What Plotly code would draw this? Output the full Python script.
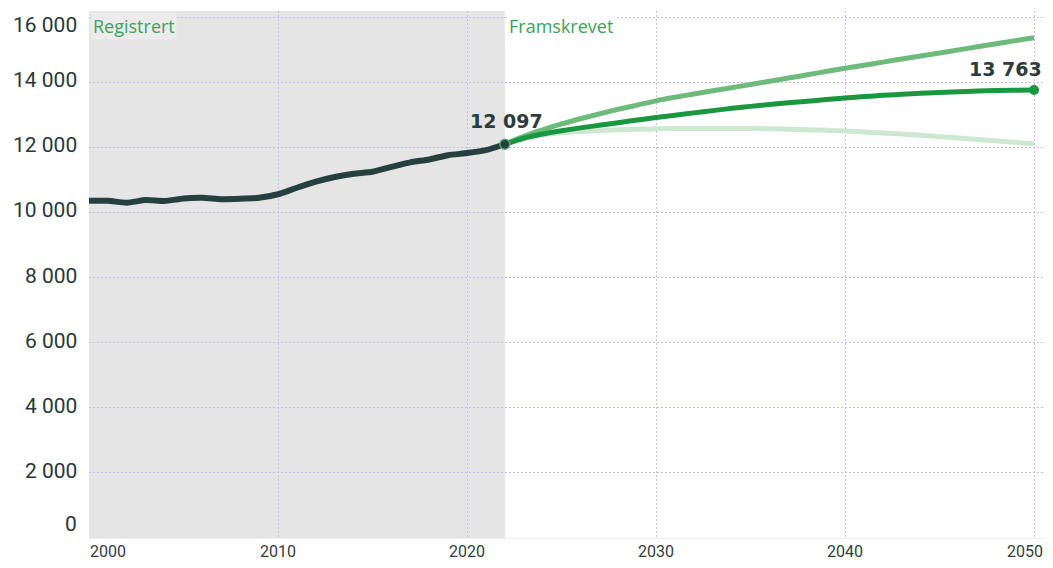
import plotly.graph_objects as go

# Registered population
hist_years = list(range(2000, 2023))
hist_values = [10360, 10360, 10300, 10380, 10350, 10430, 10450, 10410, 10420, 10450,
               10560, 10760, 10945, 11090, 11190, 11250, 11400, 11540, 11630, 11760,
               11825, 11915, 12097]

# Projections
proj_years = list(range(2022, 2051))
proj_main = [12097, 12280, 12410, 12510, 12600, 12680, 12760, 12840, 12920, 12990,
             13060, 13130, 13200, 13260, 13320, 13370, 13420, 13470, 13520, 13560,
             13600, 13630, 13660, 13690, 13710, 13730, 13745, 13755, 13763]
proj_high = [12097, 12340, 12540, 12720, 12880, 13030, 13170, 13300, 13430, 13540,
             13640, 13740, 13835, 13930, 14030, 14130, 14230, 14330, 14430, 14525,
             14620, 14715, 14810, 14900, 14995, 15090, 15185, 15280, 15370]
proj_low = [12097, 12290, 12390, 12450, 12490, 12520, 12545, 12560, 12570, 12578,
            12582, 12584, 12583, 12578, 12570, 12558, 12543, 12525, 12505, 12475,
            12443, 12408, 12370, 12330, 12288, 12244, 12200, 12155, 12110]

y_ticks = [0, 2000, 4000, 6000, 8000, 10000, 12000, 14000, 16000]
x_ticks = [2000, 2010, 2020, 2030, 2040, 2050]


def fmt(v):
    return f"{v:,}".replace(",", " ")


DARK = "#263f3f"
TEXT = "#273838"
GRID = "#c4bcf5"
LABEL_GREEN = "#3aa35a"

fig = go.Figure()

fig.add_trace(go.Scatter(x=proj_years, y=proj_low, mode="lines",
                         line=dict(color="#cde7d1", width=5, shape="spline"),
                         hoverinfo="skip"))
fig.add_trace(go.Scatter(x=proj_years, y=proj_high, mode="lines",
                         line=dict(color="#6dbb7b", width=5, shape="spline"),
                         hoverinfo="skip"))
fig.add_trace(go.Scatter(x=proj_years, y=proj_main, mode="lines",
                         line=dict(color="#1a9840", width=5, shape="spline"),
                         hoverinfo="skip"))
fig.add_trace(go.Scatter(x=[proj_years[-1]], y=[proj_main[-1]], mode="markers",
                         marker=dict(color="#1a9840", size=10),
                         hoverinfo="skip"))
fig.add_trace(go.Scatter(x=hist_years, y=hist_values, mode="lines",
                         line=dict(color=DARK, width=6, shape="spline", smoothing=0.6),
                         hoverinfo="skip"))
fig.add_trace(go.Scatter(x=[hist_years[-1]], y=[hist_values[-1]], mode="markers",
                         marker=dict(color=DARK, size=10,
                                     line=dict(color="#5aa870", width=1.5)),
                         hoverinfo="skip"))

fig.add_shape(type="rect", xref="x", yref="paper", x0=2000, x1=2022, y0=0, y1=1,
              fillcolor="#e5e5e5", line=dict(width=0), layer="below")

fig.add_annotation(x=2000, y=1, xref="x", yref="paper", text="Registrert",
                   showarrow=False, xanchor="left", yanchor="top", xshift=2, yshift=-1,
                   font=dict(family="Open Sans", size=18, color=LABEL_GREEN),
                   bgcolor="#ececec", borderpad=1)
fig.add_annotation(x=2022, y=1, xref="x", yref="paper", text="Framskrevet",
                   showarrow=False, xanchor="left", yanchor="top", xshift=2, yshift=-1,
                   font=dict(family="Open Sans", size=18, color=LABEL_GREEN),
                   bgcolor="white", borderpad=1)
fig.add_annotation(x=hist_years[-1], y=hist_values[-1], text="<b>" + fmt(hist_values[-1]) + "</b>",
                   showarrow=False, xanchor="center", yanchor="bottom", yshift=10, xshift=2,
                   font=dict(family="DejaVu Sans", size=19, color="#2d3b3b"))
fig.add_annotation(x=1, y=proj_main[-1], xref="paper", yref="y",
                   text="<b>" + fmt(proj_main[-1]) + "</b>",
                   showarrow=False, xanchor="right", yanchor="bottom", yshift=8, xshift=-1,
                   font=dict(family="DejaVu Sans", size=19, color="#2d3b3b"))

# y tick labels as annotations (end labels nudged inward like the original)
for i, t in enumerate(y_ticks):
    shift = 2
    if i == 0:
        shift = 14
    elif i == len(y_ticks) - 1:
        shift = -8
    fig.add_annotation(x=0, y=t, xref="paper", yref="y", text=fmt(t), showarrow=False,
                       xanchor="right", yanchor="middle", xshift=-10, yshift=shift,
                       font=dict(family="Roboto", size=21, color=TEXT))

# x tick labels as annotations
for i, t in enumerate(x_ticks):
    xs = 0
    if i == 0:
        xs = 19
    elif i == len(x_ticks) - 1:
        xs = -9
    fig.add_annotation(x=t, y=0, xref="x", yref="paper", text=str(t), showarrow=False,
                       xanchor="center", yanchor="top", xshift=xs, yshift=-2,
                       font=dict(family="Roboto", size=16, color="#333d3d"))

fig.update_layout(
    width=1037, height=552,
    margin=dict(l=81, r=0, t=3, b=22),
    plot_bgcolor="white", paper_bgcolor="white",
    showlegend=False,
    xaxis=dict(range=[2000, 2050.58], tickvals=x_ticks, showticklabels=False,
               showgrid=True, gridcolor=GRID, griddash="2px,2px", gridwidth=1.2,
               zeroline=False, showline=True, linecolor="#eeeeee", ticks=""),
    yaxis=dict(range=[0, 16190], tickvals=y_ticks, showticklabels=False,
               showgrid=True, gridcolor=GRID, griddash="2px,2px", gridwidth=1.2,
               zeroline=False, showline=False, ticks=""),
)

fig.write_html("out.html")
